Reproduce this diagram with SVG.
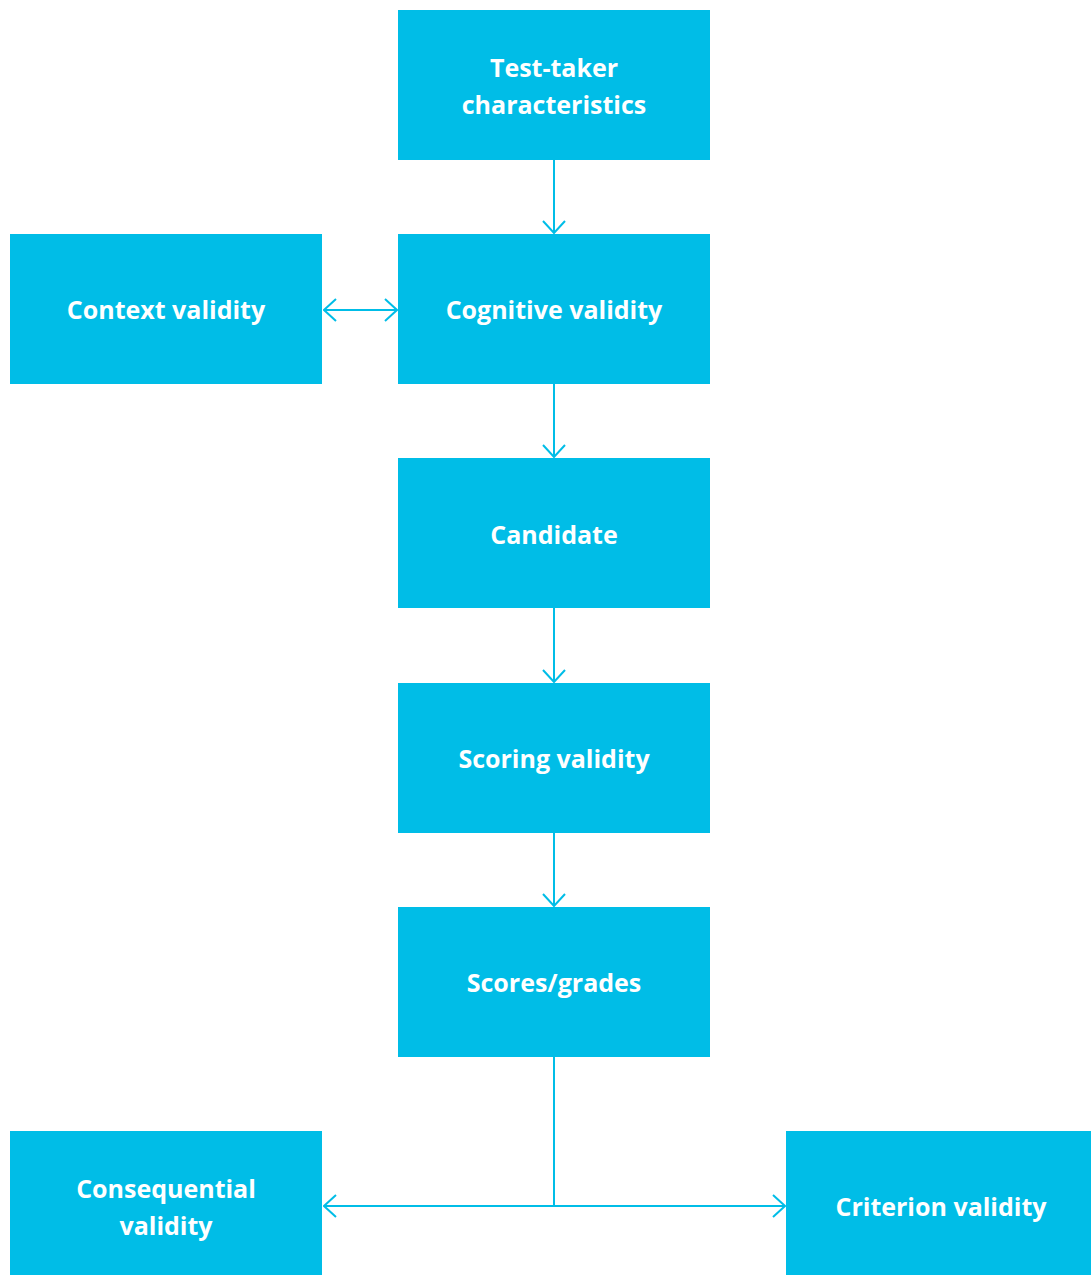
<svg xmlns="http://www.w3.org/2000/svg" width="1091" height="1275" viewBox="0 0 1091 1275">
<style>
.box{fill:#00BDE7}
.t{font-family:"Open Sans","Liberation Sans",sans-serif;font-weight:700;font-size:25px;fill:#fff;text-anchor:middle}
.c{stroke:#00BDE7;stroke-width:2;fill:none}
</style>
<defs>
<marker id="ah" viewBox="0 0 14 24" refX="13" refY="12" markerWidth="14" markerHeight="24" markerUnits="userSpaceOnUse" orient="auto-start-reverse">
<path d="M1,1 L13,12 L1,23" fill="none" stroke="#00BDE7" stroke-width="2"/>
</marker>
</defs>
<rect width="1091" height="1275" fill="#fff"/>
<g id="connectors">
<line class="c" x1="554" y1="160" x2="554" y2="233" marker-end="url(#ah)"/>
<line class="c" x1="324" y1="310" x2="397" y2="310" marker-start="url(#ah)" marker-end="url(#ah)"/>
<line class="c" x1="554" y1="384" x2="554" y2="457" marker-end="url(#ah)"/>
<line class="c" x1="554" y1="608" x2="554" y2="682" marker-end="url(#ah)"/>
<line class="c" x1="554" y1="833" x2="554" y2="906" marker-end="url(#ah)"/>
<line class="c" x1="554" y1="1057" x2="554" y2="1206"/>
<line class="c" x1="324" y1="1206" x2="785" y2="1206" marker-start="url(#ah)" marker-end="url(#ah)"/>
</g>
<g id="n-testtaker"><rect class="box" x="398" y="10" width="312" height="150"/><text class="t" x="554" y="77">Test-taker</text><text class="t" x="554" y="114">characteristics</text></g>
<g id="n-context"><rect class="box" x="10" y="234" width="312" height="150"/><text class="t" x="166" y="319">Context validity</text></g>
<g id="n-cognitive"><rect class="box" x="398" y="234" width="312" height="150"/><text class="t" x="554" y="319">Cognitive validity</text></g>
<g id="n-candidate"><rect class="box" x="398" y="458" width="312" height="150"/><text class="t" x="554" y="544">Candidate</text></g>
<g id="n-scoring"><rect class="box" x="398" y="683" width="312" height="150"/><text class="t" x="554" y="768">Scoring validity</text></g>
<g id="n-scores"><rect class="box" x="398" y="907" width="312" height="150"/><text class="t" x="554" y="992">Scores/grades</text></g>
<g id="n-consequential"><rect class="box" x="10" y="1131" width="312" height="144"/><text class="t" x="166" y="1198">Consequential</text><text class="t" x="166" y="1235">validity</text></g>
<g id="n-criterion"><rect class="box" x="786" y="1131" width="305" height="144"/><text class="t" x="941" y="1216">Criterion validity</text></g>
</svg>
